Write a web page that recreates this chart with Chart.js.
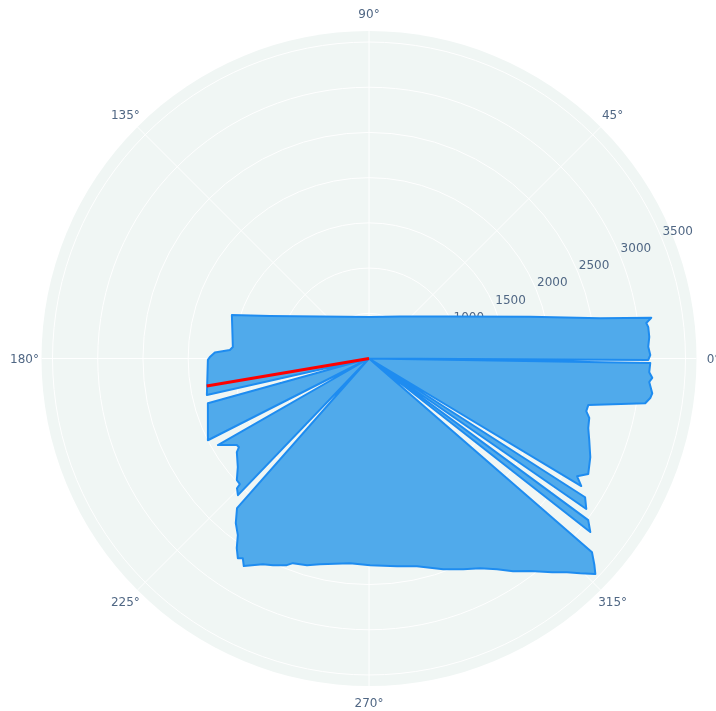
<!DOCTYPE html>
<html>
<head>
<meta charset="utf-8">
<script src="https://cdn.jsdelivr.net/npm/chart.js@4/dist/chart.umd.min.js"></script>
<style>
  html, body { margin: 0; padding: 0; background: #ffffff; }
  canvas { display: block; }
</style>
</head>
<body>
<canvas id="chart" width="716" height="711"></canvas>
<script>
// Outline of the filled region, traced counter-clockwise (angle in degrees, radius in data units).
// Radius 0 entries return the outline to the pole between the separate lobes.
const thetaDeg = [
  228.6,
  228.6, 231.0, 233.4, 235.1, 236.7, 237.7, 238.9, 242.7, 245.1, 248.3,
  249.6, 253.3, 256.6, 264.7, 270.3, 277.7, 283.0, 289.4, 294.1, 297.9,
  301.3, 304.1, 307.2, 310.6, 312.8, 314.5, 316.4, 317.5, 319.0,
  319.0,
  321.9, 323.6,
  323.6,
  325.3, 327.3,
  327.3,
  329.0, 330.5, 332.2, 336.0, 339.7, 342.4, 344.9, 346.4, 348.0, 350.8,
  352.0, 353.0, 355.2, 356.1, 357.2, 359.1,
  359.1,
  359.7, 0.7, 2.4, 4.4, 6.4, 7.3, 8.2, 9.9, 14.5, 27.4,
  53.6, 88.6, 139.4, 156.8, 162.4, 175.2, 176.5, 177.8, 179.5, 180.5, 192.7,
  192.7,
  195.5, 206.9,
  206.9,
  209.8, 213.2, 214.3, 215.3, 219.6, 222.6, 224.2, 224.5, 226.2,
  226.2
];
const radius = [
  0,
  2207, 2341, 2433, 2556, 2642, 2612, 2681, 2560, 2521, 2460,
  2415, 2387, 2339, 2274, 2286, 2318, 2358, 2470, 2552, 2625,
  2727, 2842, 2951, 3113, 3223, 3331, 3457, 3381, 3268,
  0,
  3110, 3012,
  0,
  2923, 2840,
  0,
  2739, 2645, 2741, 2679, 2597, 2544, 2523, 2472, 2479, 3095,
  3141, 3156, 3110, 3140, 3103, 3111,
  0,
  3089, 3111, 3091, 3109, 3108, 3092, 3154, 2596, 1841, 1010,
  578, 459, 714, 1192, 1591, 1511, 1542, 1706, 1760, 1782, 1838,
  0,
  1849, 1998,
  0,
  1926, 1747, 1741, 1791, 1883, 1986, 1992, 2047, 2094,
  0
];

// Highlighted direction from the pole
const rayTheta = [189.6, 189.6];
const rayRadius = [0, 1820];

// Axis ticks
const radialTicks = [500, 1000, 1500, 2000, 2500, 3000, 3500];
const angularTicks = [0, 45, 90, 135, 180, 225, 270, 315];
const radialMax = 3622;
const radialAxisAngle = 22.5;

const toXY = (t, r) => {
  const a = t * Math.PI / 180;
  return { x: r * Math.cos(a), y: r * Math.sin(a) };
};
const outline = thetaDeg.map((t, i) => toXY(t, radius[i]));
const ray = rayTheta.map((t, i) => toXY(t, rayRadius[i]));

const polarGrid = {
  id: 'polarGrid',
  beforeDatasetsDraw(chart) {
    const { ctx, scales: { x, y } } = chart;
    const cx = x.getPixelForValue(0);
    const cy = y.getPixelForValue(0);
    const dist = v => x.getPixelForValue(v) - cx;
    const R = dist(radialMax);
    ctx.save();
    // plot background disc
    ctx.fillStyle = 'rgb(240,246,244)';
    ctx.beginPath();
    ctx.arc(cx, cy, R, 0, Math.PI * 2);
    ctx.fill();
    // circular grid
    ctx.strokeStyle = '#ffffff';
    ctx.lineWidth = 1;
    radialTicks.forEach(v => {
      ctx.beginPath();
      ctx.arc(cx, cy, dist(v), 0, Math.PI * 2);
      ctx.stroke();
    });
    // spokes
    angularTicks.forEach(a => {
      const rad = a * Math.PI / 180;
      ctx.beginPath();
      ctx.moveTo(cx, cy);
      ctx.lineTo(cx + R * Math.cos(rad), cy - R * Math.sin(rad));
      ctx.stroke();
    });
    // angular labels
    ctx.fillStyle = '#506784';
    ctx.font = '12px "DejaVu Sans", sans-serif';
    ctx.textAlign = 'center';
    ctx.textBaseline = 'middle';
    angularTicks.forEach(a => {
      const rad = a * Math.PI / 180;
      ctx.fillText(a + '°', cx + (R + 17) * Math.cos(rad), cy - (R + 17) * Math.sin(rad) + 1);
    });
    // radial tick labels along the radial axis
    ctx.textAlign = 'left';
    const ra = radialAxisAngle * Math.PI / 180;
    radialTicks.forEach(v => {
      const d = dist(v);
      ctx.fillText(String(v), cx + d * Math.cos(ra) + 1, cy - d * Math.sin(ra) - 6);
    });
    ctx.restore();
  }
};

new Chart(document.getElementById('chart'), {
  type: 'line',
  data: {
    datasets: [
      {
        data: outline,
        order: 1,
        borderColor: 'rgb(30,140,240)',
        backgroundColor: 'rgb(80,170,235)',
        borderWidth: 2,
        borderJoinStyle: 'round',
        fill: 'shape',
        pointRadius: 0,
        tension: 0
      },
      {
        data: ray,
        order: 0,
        borderColor: '#ff0000',
        borderWidth: 3,
        fill: false,
        pointRadius: 0,
        tension: 0
      }
    ]
  },
  options: {
    responsive: false,
    animation: false,
    layout: { padding: { left: 41.5, right: 19.5, top: 31, bottom: 25 } },
    scales: {
      x: { type: 'linear', min: -radialMax, max: radialMax, display: false },
      y: { type: 'linear', min: -radialMax, max: radialMax, display: false }
    },
    plugins: {
      legend: { display: false },
      tooltip: { enabled: false }
    }
  },
  plugins: [polarGrid]
});
</script>
</body>
</html>
